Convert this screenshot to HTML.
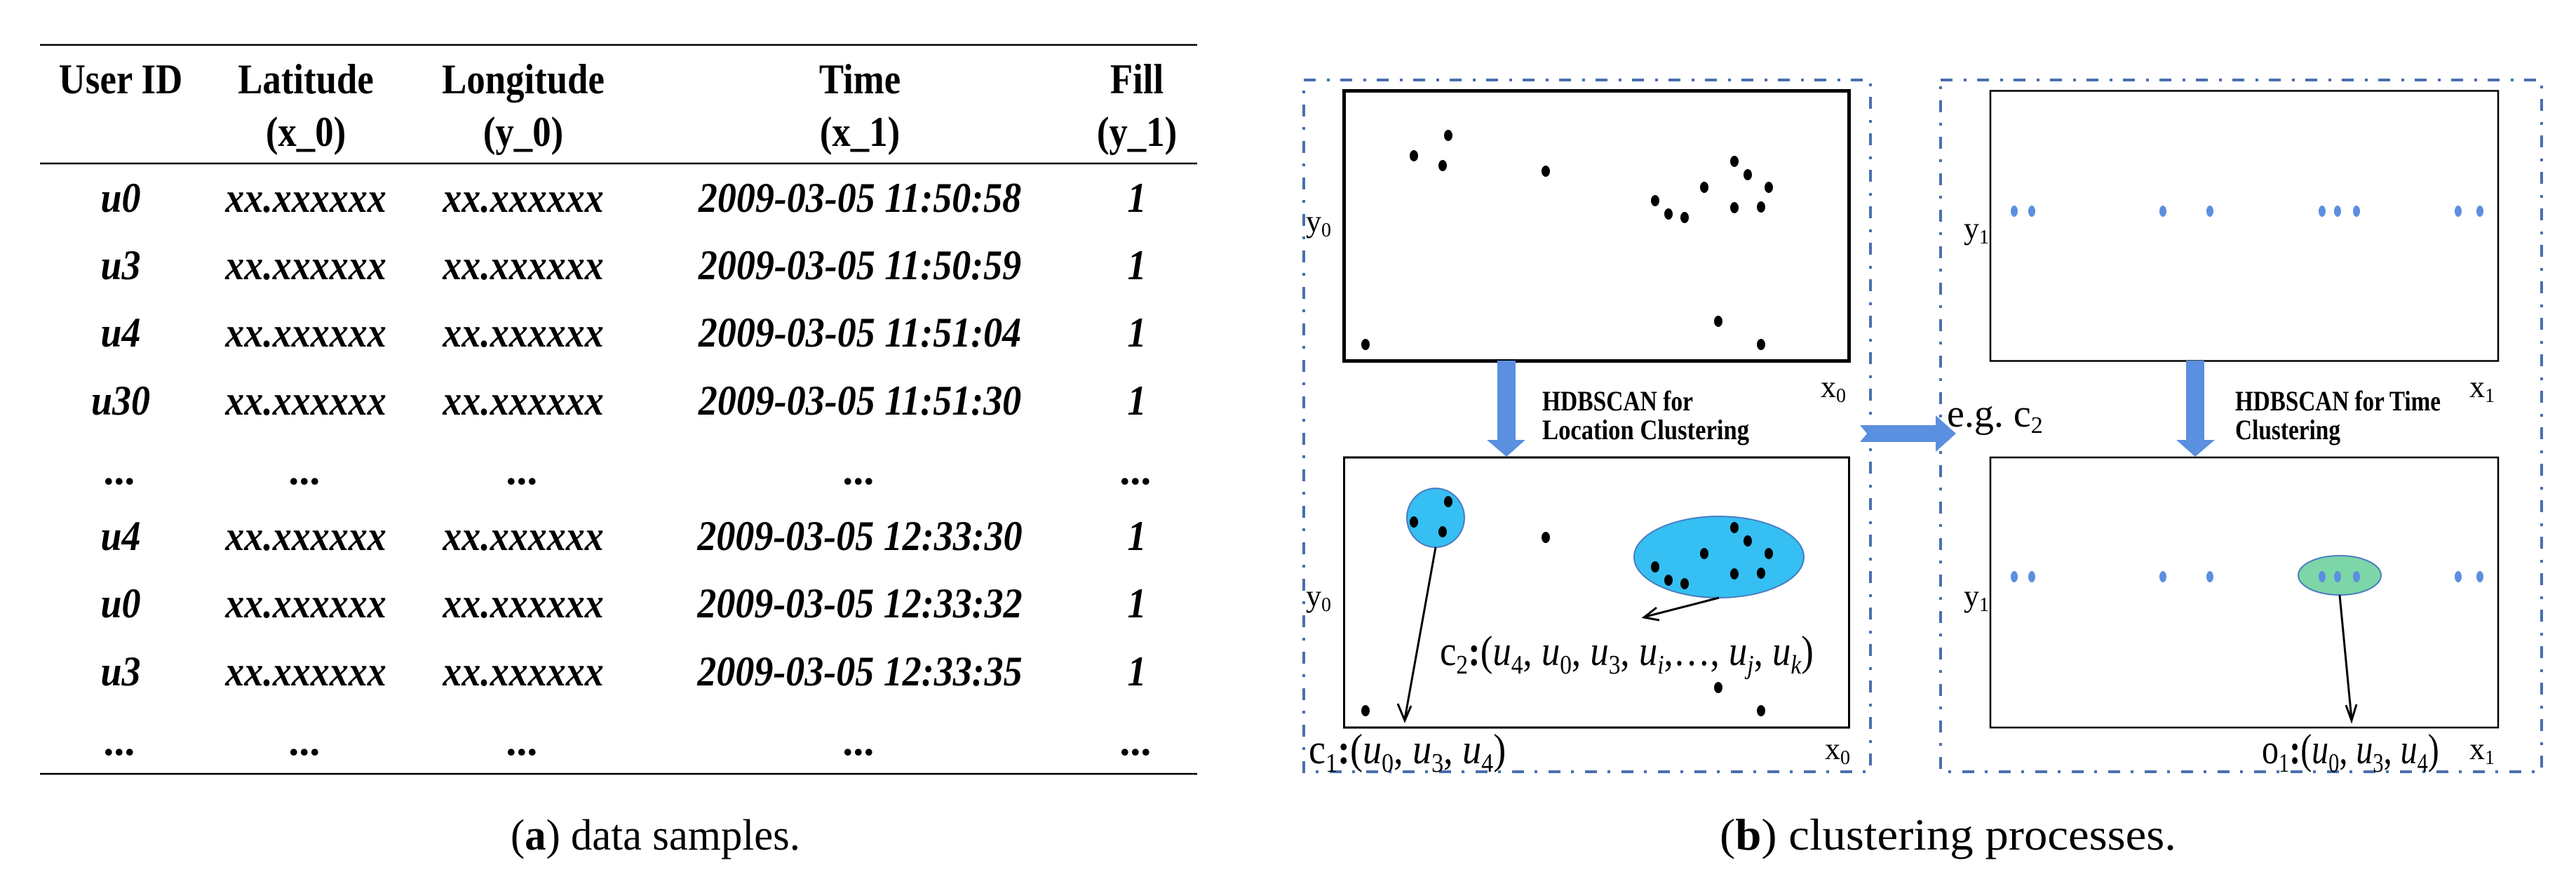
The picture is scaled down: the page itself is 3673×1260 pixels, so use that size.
<!DOCTYPE html>
<html><head><meta charset="utf-8"><style>
html,body{margin:0;padding:0;background:#fff}
svg{display:block}
.tb{font-family:"Liberation Serif",serif;font-weight:bold;fill:#000}
.ti{font-family:"Liberation Serif",serif;font-weight:bold;font-style:italic;fill:#000}
.s{font-family:"Liberation Serif",serif;fill:#000}
.m{font-family:"Liberation Serif",serif;font-style:italic;fill:#000}
</style></head><body>
<svg width="3673" height="1260" viewBox="0 0 3673 1260" xmlns="http://www.w3.org/2000/svg">
<line x1="57" y1="64" x2="1707" y2="64" stroke="#000" stroke-width="2.5"/>
<line x1="57" y1="233" x2="1707" y2="233" stroke="#000" stroke-width="2.5"/>
<line x1="57" y1="1103" x2="1707" y2="1103" stroke="#000" stroke-width="2.5"/>
<g class="tb" font-size="60" text-anchor="middle">
<text transform="translate(172,133) scale(0.88,1)">User ID</text>
<text transform="translate(436,133) scale(0.88,1)">Latitude</text>
<text transform="translate(746,133) scale(0.88,1)">Longitude</text>
<text transform="translate(1226,133) scale(0.88,1)">Time</text>
<text transform="translate(1621,133) scale(0.88,1)">Fill</text>
<text transform="translate(436,208) scale(0.88,1)">(x_0)</text>
<text transform="translate(746,208) scale(0.88,1)">(y_0)</text>
<text transform="translate(1226,208) scale(0.88,1)">(x_1)</text>
<text transform="translate(1621,208) scale(0.88,1)">(y_1)</text>
</g>
<g class="ti" font-size="60" text-anchor="middle">
<g transform="translate(0,302)"><text transform="translate(172,0) scale(0.9,1)">u0</text><text transform="translate(436,0) scale(0.9,1)">xx.xxxxxx</text><text transform="translate(746,0) scale(0.9,1)">xx.xxxxxx</text><text transform="translate(1226,0) scale(0.9,1)">2009-03-05 11:50:58</text><text transform="translate(1621,0) scale(0.9,1)">1</text></g>
<g transform="translate(0,398)"><text transform="translate(172,0) scale(0.9,1)">u3</text><text transform="translate(436,0) scale(0.9,1)">xx.xxxxxx</text><text transform="translate(746,0) scale(0.9,1)">xx.xxxxxx</text><text transform="translate(1226,0) scale(0.9,1)">2009-03-05 11:50:59</text><text transform="translate(1621,0) scale(0.9,1)">1</text></g>
<g transform="translate(0,494)"><text transform="translate(172,0) scale(0.9,1)">u4</text><text transform="translate(436,0) scale(0.9,1)">xx.xxxxxx</text><text transform="translate(746,0) scale(0.9,1)">xx.xxxxxx</text><text transform="translate(1226,0) scale(0.9,1)">2009-03-05 11:51:04</text><text transform="translate(1621,0) scale(0.9,1)">1</text></g>
<g transform="translate(0,591)"><text transform="translate(172,0) scale(0.9,1)">u30</text><text transform="translate(436,0) scale(0.9,1)">xx.xxxxxx</text><text transform="translate(746,0) scale(0.9,1)">xx.xxxxxx</text><text transform="translate(1226,0) scale(0.9,1)">2009-03-05 11:51:30</text><text transform="translate(1621,0) scale(0.9,1)">1</text></g>
<g transform="translate(0,690)"><text x="172">...</text><text x="436">...</text><text x="746">...</text><text x="1226">...</text><text x="1621">...</text></g>
<g transform="translate(0,784)"><text transform="translate(172,0) scale(0.9,1)">u4</text><text transform="translate(436,0) scale(0.9,1)">xx.xxxxxx</text><text transform="translate(746,0) scale(0.9,1)">xx.xxxxxx</text><text transform="translate(1226,0) scale(0.9,1)">2009-03-05 12:33:30</text><text transform="translate(1621,0) scale(0.9,1)">1</text></g>
<g transform="translate(0,880)"><text transform="translate(172,0) scale(0.9,1)">u0</text><text transform="translate(436,0) scale(0.9,1)">xx.xxxxxx</text><text transform="translate(746,0) scale(0.9,1)">xx.xxxxxx</text><text transform="translate(1226,0) scale(0.9,1)">2009-03-05 12:33:32</text><text transform="translate(1621,0) scale(0.9,1)">1</text></g>
<g transform="translate(0,977)"><text transform="translate(172,0) scale(0.9,1)">u3</text><text transform="translate(436,0) scale(0.9,1)">xx.xxxxxx</text><text transform="translate(746,0) scale(0.9,1)">xx.xxxxxx</text><text transform="translate(1226,0) scale(0.9,1)">2009-03-05 12:33:35</text><text transform="translate(1621,0) scale(0.9,1)">1</text></g>
<g transform="translate(0,1076)"><text x="172">...</text><text x="436">...</text><text x="746">...</text><text x="1226">...</text><text x="1621">...</text></g>
</g>
<text class="s" font-size="62" x="728" y="1211" textLength="413" lengthAdjust="spacingAndGlyphs">(<tspan font-weight="bold">a</tspan>) data samples.</text>

<g fill="none" stroke="#4a6fb0" stroke-width="4" stroke-dasharray="17 16 4 15">
<rect x="1859" y="114" width="808" height="986"/>
<rect x="2767" y="114" width="857" height="986"/>
</g>
<rect x="1916.5" y="129.5" width="720" height="385" fill="none" stroke="#000" stroke-width="5"/>
<rect x="1916.5" y="652" width="720" height="385" fill="none" stroke="#000" stroke-width="3"/>
<rect x="2838" y="129.5" width="724" height="385" fill="none" stroke="#000" stroke-width="2.5"/>
<rect x="2838" y="652" width="724" height="385" fill="none" stroke="#000" stroke-width="2.5"/>

<ellipse cx="2047" cy="738" rx="41" ry="42" fill="#35bff2" stroke="#4a7bc0" stroke-width="2"/>
<ellipse cx="2451" cy="794" rx="121" ry="58" fill="#35bff2" stroke="#4a7bc0" stroke-width="2"/>
<ellipse cx="3336" cy="820" rx="59" ry="28" fill="#7dd6a8" stroke="#4a7bc0" stroke-width="2"/>

<g id="dots" fill="#000">
<ellipse cx="2065" cy="193" rx="6" ry="8"/><ellipse cx="2016" cy="222" rx="6" ry="8"/><ellipse cx="2057" cy="236" rx="6" ry="8"/><ellipse cx="2204" cy="244" rx="6" ry="8"/>
<ellipse cx="2473" cy="230" rx="6" ry="8"/><ellipse cx="2492" cy="249" rx="6" ry="8"/><ellipse cx="2522" cy="267" rx="6" ry="8"/><ellipse cx="2430" cy="267" rx="6" ry="8"/>
<ellipse cx="2360" cy="286" rx="6" ry="8"/><ellipse cx="2379" cy="305" rx="6" ry="8"/><ellipse cx="2402" cy="310" rx="6" ry="8"/><ellipse cx="2473" cy="296" rx="6" ry="8"/>
<ellipse cx="2511" cy="295" rx="6" ry="8"/><ellipse cx="2450" cy="458" rx="6" ry="8"/><ellipse cx="2511" cy="491" rx="6" ry="8"/><ellipse cx="1947" cy="491" rx="6" ry="8"/>
</g>
<use href="#dots" transform="translate(0,522)"/>

<g id="tdots" fill="#5b8fdf">
<ellipse cx="2872" cy="301" rx="5" ry="8"/><ellipse cx="2897" cy="301" rx="5" ry="8"/><ellipse cx="3084" cy="301" rx="5" ry="8"/><ellipse cx="3151" cy="301" rx="5" ry="8"/>
<ellipse cx="3311" cy="301" rx="5" ry="8"/><ellipse cx="3333" cy="301" rx="5" ry="8"/><ellipse cx="3360" cy="301" rx="5" ry="8"/><ellipse cx="3505" cy="301" rx="5" ry="8"/><ellipse cx="3536" cy="301" rx="5" ry="8"/>
</g>
<use href="#tdots" transform="translate(0,521)"/>

<g stroke="#000" stroke-width="3" fill="none">
<line x1="2047" y1="780" x2="2003" y2="1025"/>
<polyline points="1993,1003 2003,1027 2012,1006"/>
<line x1="2451" y1="852" x2="2346" y2="879"/>
<polyline points="2362,866 2344,880 2366,884"/>
<line x1="3336" y1="848" x2="3353" y2="1025"/>
<polyline points="3345,1005 3353,1027 3360,1004"/>
</g>

<g fill="#5b8fdf">
<polygon points="2135,514 2161,514 2161,627 2175,627 2148,651 2120,627 2135,627"/>
<polygon points="3117,514 3143,514 3143,627 3158,627 3130,651 3103,627 3117,627"/>
<polygon points="2652,606 2760,606 2760,592 2789,618 2760,644 2760,630 2652,630 2662,618"/>
</g>

<g class="tb" font-size="40">
<text x="2199" y="585" textLength="215" lengthAdjust="spacingAndGlyphs">HDBSCAN for</text>
<text x="2199" y="626" textLength="295" lengthAdjust="spacingAndGlyphs">Location Clustering</text>
<text x="3187" y="585" textLength="293" lengthAdjust="spacingAndGlyphs">HDBSCAN for Time</text>
<text x="3187" y="626" textLength="150" lengthAdjust="spacingAndGlyphs">Clustering</text>
</g>
<g class="s" font-size="44">
<text x="1862" y="330">y<tspan font-size="28" dy="7">0</tspan></text>
<text x="1862" y="864">y<tspan font-size="28" dy="7">0</tspan></text>
<text x="2596" y="566">x<tspan font-size="28" dy="7">0</tspan></text>
<text x="2602" y="1082">x<tspan font-size="28" dy="7">0</tspan></text>
<text x="2800" y="340">y<tspan font-size="28" dy="7">1</tspan></text>
<text x="2800" y="864">y<tspan font-size="28" dy="7">1</tspan></text>
<text x="3521" y="566">x<tspan font-size="28" dy="7">1</tspan></text>
<text x="3521" y="1082">x<tspan font-size="28" dy="7">1</tspan></text>
<text x="2776" y="608" font-size="56">e.g. c<tspan font-size="34" dy="9">2</tspan></text>
</g>
<g class="s" font-size="60">
<text transform="translate(2053,948) scale(0.88,1)">c<tspan font-size="38" dy="12">2</tspan><tspan dy="-12" font-weight="bold">:</tspan>(<tspan class="m">u</tspan><tspan font-size="38" dy="12">4</tspan><tspan dy="-12">, </tspan><tspan class="m">u</tspan><tspan font-size="38" dy="12">0</tspan><tspan dy="-12">, </tspan><tspan class="m">u</tspan><tspan font-size="38" dy="12">3</tspan><tspan dy="-12">, </tspan><tspan class="m">u</tspan><tspan font-size="38" dy="12" class="m">i</tspan><tspan dy="-12">,…, </tspan><tspan class="m">u</tspan><tspan font-size="38" dy="12" class="m">j</tspan><tspan dy="-12">, </tspan><tspan class="m">u</tspan><tspan font-size="38" dy="12" class="m">k</tspan><tspan dy="-12">)</tspan></text>
<text transform="translate(1866,1088) scale(0.9,1)">c<tspan font-size="38" dy="12">1</tspan><tspan dy="-12" font-weight="bold">:</tspan>(<tspan class="m">u</tspan><tspan font-size="38" dy="12">0</tspan><tspan dy="-12">, </tspan><tspan class="m">u</tspan><tspan font-size="38" dy="12">3</tspan><tspan dy="-12">, </tspan><tspan class="m">u</tspan><tspan font-size="38" dy="12">4</tspan><tspan dy="-12">)</tspan></text>
<text transform="translate(3225,1088) scale(0.8,1)">o<tspan font-size="38" dy="12">1</tspan><tspan dy="-12" font-weight="bold">:</tspan>(<tspan class="m">u</tspan><tspan font-size="38" dy="12">0</tspan><tspan dy="-12">, </tspan><tspan class="m">u</tspan><tspan font-size="38" dy="12">3</tspan><tspan dy="-12">, </tspan><tspan class="m">u</tspan><tspan font-size="38" dy="12">4</tspan><tspan dy="-12">)</tspan></text>
</g>
<text class="s" font-size="64" x="2452" y="1211" textLength="651" lengthAdjust="spacingAndGlyphs">(<tspan font-weight="bold">b</tspan>) clustering processes.</text>
</svg>
</body></html>
